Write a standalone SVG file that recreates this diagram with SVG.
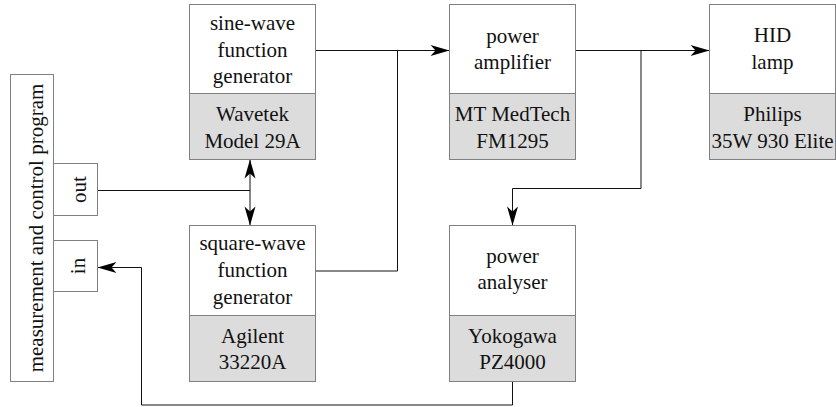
<svg xmlns="http://www.w3.org/2000/svg" width="836" height="407" viewBox="0 0 836 407">
<style>
.box{fill:#fff;stroke:#808080;stroke-width:1}
.grey{fill:#dcdcdc;stroke:#808080;stroke-width:1}
.t{font-size:21px;fill:#111;text-anchor:middle}
.c{fill:none;stroke:#111;stroke-width:1}
</style>
<defs>
<marker id="ah" viewBox="-20 -6 21 12" refX="0" refY="0" markerWidth="21" markerHeight="12" markerUnits="userSpaceOnUse" orient="auto-start-reverse">
<path d="M0,0 L-19,-5.5 L-14,0 L-19,5.5 Z" fill="#000"/>
</marker>
</defs>
<g id="connectors">
<path class="c" d="M97.5,190.5 H250"/>
<path class="c" d="M250,159.5 V225.5" marker-start="url(#ah)" marker-end="url(#ah)"/>
<path class="c" d="M315.5,50.5 H449.5" marker-end="url(#ah)"/>
<path class="c" d="M315.5,271 H397.5 V50.5"/>
<path class="c" d="M575.5,50.5 H709.5" marker-end="url(#ah)"/>
<path class="c" d="M641,50.5 V188.5 H512.5 V225.5" marker-end="url(#ah)"/>
<path class="c" d="M512.5,381.5 V405 H141.5 V267.5 H97.5" marker-end="url(#ah)"/>
</g>
<g font-family="'Liberation Serif', 'DejaVu Serif', serif">
<g id="control">
<rect class="box" x="10.5" y="74.5" width="43" height="307"/>
<text class="t" transform="translate(43,228) rotate(-90)">measurement and control program</text>
</g>
<g id="out">
<rect class="box" x="53.5" y="163.5" width="44" height="52"/>
<text class="t" transform="translate(85.5,189.5) rotate(-90)">out</text>
</g>
<g id="in">
<rect class="box" x="53.5" y="240.5" width="44" height="51"/>
<text class="t" transform="translate(85,266) rotate(-90)">in</text>
</g>
<g id="sine">
<rect class="box" x="189.5" y="4.5" width="126" height="89"/>
<rect class="grey" x="189.5" y="93.5" width="126" height="66"/>
<text class="t" x="252.5" y="30">sine-wave</text>
<text class="t" x="252.5" y="56.5">function</text>
<text class="t" x="252.5" y="83">generator</text>
<text class="t" x="252.5" y="120.7">Wavetek</text>
<text class="t" x="252.5" y="147.7">Model 29A</text>
</g>
<g id="amplifier">
<rect class="box" x="449.5" y="4.5" width="126" height="89"/>
<rect class="grey" x="449.5" y="93.5" width="126" height="66"/>
<text class="t" x="512.5" y="42.5">power</text>
<text class="t" x="512.5" y="69">amplifier</text>
<text class="t" x="512.5" y="120.7">MT MedTech</text>
<text class="t" x="512.5" y="147.7">FM1295</text>
</g>
<g id="lamp">
<rect class="box" x="709.5" y="4.5" width="126" height="89"/>
<rect class="grey" x="709.5" y="93.5" width="126" height="66"/>
<text class="t" x="772.5" y="42">HID</text>
<text class="t" x="772.5" y="68.5">lamp</text>
<text class="t" x="772.5" y="120.7">Philips</text>
<text class="t" x="772.5" y="147.7">35W 930 Elite</text>
</g>
<g id="square">
<rect class="box" x="189.5" y="225.5" width="126" height="90"/>
<rect class="grey" x="189.5" y="315.5" width="126" height="66"/>
<text class="t" x="252.5" y="250">square-wave</text>
<text class="t" x="252.5" y="277">function</text>
<text class="t" x="252.5" y="304">generator</text>
<text class="t" x="252.5" y="342.7">Agilent</text>
<text class="t" x="252.5" y="369">33220A</text>
</g>
<g id="analyser">
<rect class="box" x="449.5" y="225.5" width="126" height="90"/>
<rect class="grey" x="449.5" y="315.5" width="126" height="66"/>
<text class="t" x="512.5" y="262.7">power</text>
<text class="t" x="512.5" y="289.3">analyser</text>
<text class="t" x="512.5" y="342.7">Yokogawa</text>
<text class="t" x="512.5" y="369.3">PZ4000</text>
</g>
</g>
</svg>
